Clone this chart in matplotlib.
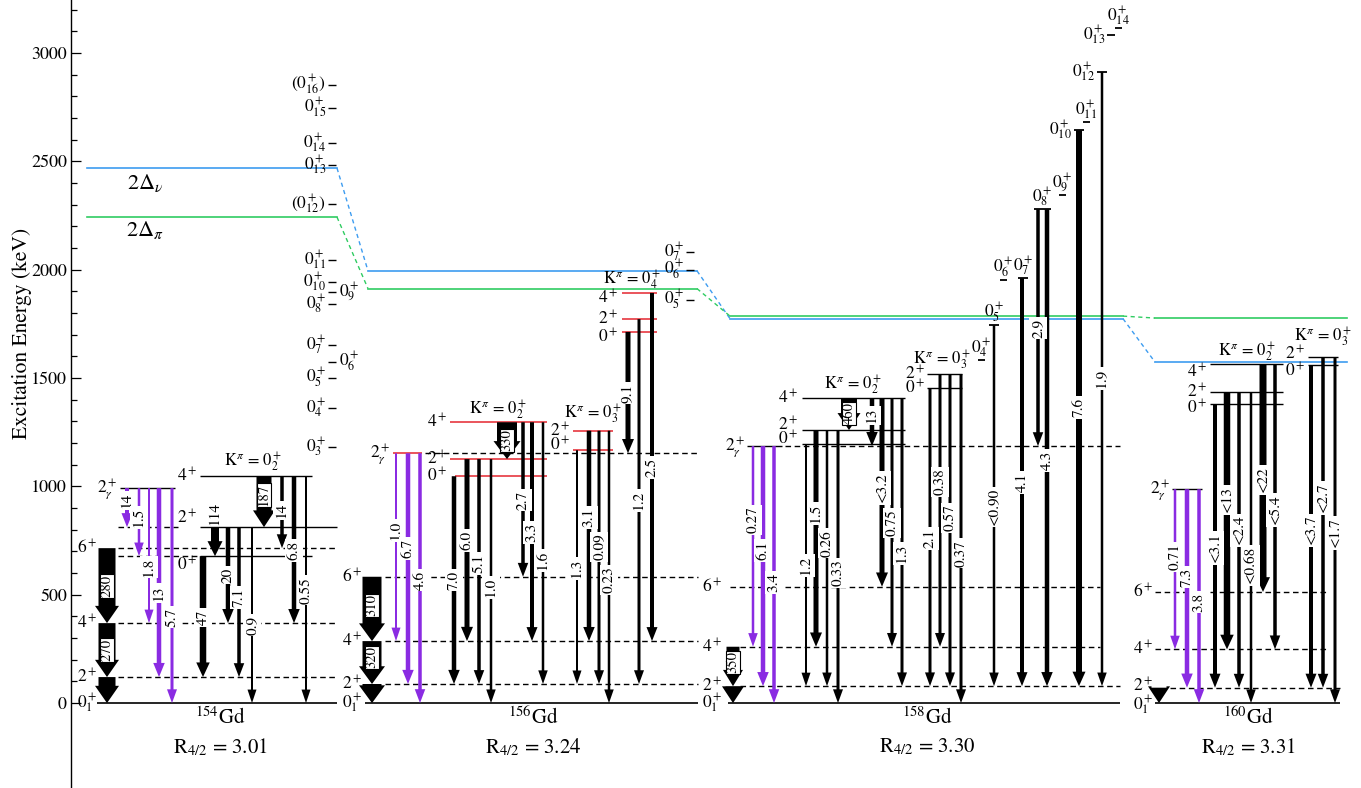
import numpy as np
import matplotlib
matplotlib.use('Agg')
import matplotlib.pyplot as plt
from matplotlib.patches import Polygon

plt.rcParams['font.family'] = 'serif'
plt.rcParams['font.serif'] = ['STIXGeneral', 'Liberation Serif', 'DejaVu Serif']
plt.rcParams['mathtext.fontset'] = 'stix'

################################################################################
# Level energies (keV)
################################################################################
gd154_E = {'0+1': 0, '2+1': 120, '4+1': 369, '6+1': 715, '2g': 992,
           '0+2': 678, '2+2': 812, '4+2': 1047}
gd154_ladder_name = ['0^+_3', '0^+_4', '0^+_5', '0^+_6', '0^+_7', '0^+_8', '0^+_9',
                     '0^+_{10}', '0^+_{11}', '(0^+_{12})', '0^+_{13}', '0^+_{14}',
                     '0^+_{15}', '(0^+_{16})']
gd154_ladder_E = [1182, 1361, 1500, 1574, 1652, 1841, 1897, 1944, 2045, 2303,
                  2483, 2585, 2746, 2852]

gd156_E = {'0+1': 0, '2+1': 88, '4+1': 286, '6+1': 583, '2g': 1153,
           '0+2': 1047, '2+2': 1126, '4+2': 1296, '0+3': 1167, '2+3': 1257,
           '0+4': 1713, '2+4': 1772, '4+4': 1893}
gd156_ladder_name = ['0^+_5', '0^+_6', '0^+_7']
gd156_ladder_E = [1860, 1998, 2081]

gd158_E = {'0+1': 0, '2+1': 78, '4+1': 260, '6+1': 537, '2g': 1186,
           '0+2': 1195, '2+2': 1260, '4+2': 1407, '0+3': 1453, '2+3': 1518,
           '0+4': 1583, '0+5': 1744, '0+6': 1952, '0+7': 1961, '0+8': 2279,
           '0+9': 2344, '0+10': 2644, '0+11': 2681, '0+12': 2912,
           '0+13': 3083, '0+14': 3115}

gd160_E = {'0+1': 0, '2+1': 71, '4+1': 248, '6+1': 513, '2g': 987,
           '0+2': 1379, '2+2': 1434, '4+2': 1563, '0+3': 1559, '2+3': 1597}

# pairing gaps 2Delta_nu, 2Delta_pi for 154,156,158,160Gd
delta_nu = [2469, 1995, 1774, 1574]
delta_pi = [2243, 1913, 1786, 1777]

nuclei = ['154', '156', '158', '160']
r42 = ['3.01', '3.24', '3.30', '3.31']

################################################################################
# Transitions: initial, final, B(E2) label (W.u.)
################################################################################
gd154_from = ['6+1', '4+1', '2+1', '2g', '2g', '2g', '2g', '2g', '0+2', '2+2',
              '2+2', '2+2', '2+2', '4+2', '4+2', '4+2', '4+2']
gd154_to = ['4+1', '2+1', '0+1', '2+2', '0+2', '4+1', '2+1', '0+1', '2+1', '0+2',
            '4+1', '2+1', '0+1', '2+2', '6+1', '4+1', '0+1']
gd154_be2 = ['280', '270', '', '14', '1.5', '1.8', '13', '5.7', '47', '114',
             '20', '7.1', '0.9', '187', '14', '6.8', '0.55']

gd156_from = ['6+1', '4+1', '2+1', '2g', '2g', '2g', '0+2', '2+2', '2+2', '2+2',
              '4+2', '4+2', '4+2', '4+2', '0+3', '2+3', '2+3', '2+3', '0+4', '2+4', '4+4']
gd156_to = ['4+1', '2+1', '0+1', '4+1', '2+1', '0+1', '2+1', '4+1', '2+1', '0+1',
            '2+2', '6+1', '4+1', '2+1', '2+1', '4+1', '2+1', '0+1', '2g', '2+1', '4+1']
gd156_be2 = ['310', '320', '', '1.0', '6.7', '4.6', '7.0', '6.0', '5.1', '1.0',
             '330', '2.7', '3.3', '1.6', '1.3', '3.1', '0.09', '0.23', '9.1', '1.2', '2.5']

gd158_from = ['4+1', '2+1', '2g', '2g', '2g', '0+2', '2+2', '2+2', '2+2', '4+2',
              '4+2', '4+2', '4+2', '4+2', '0+3', '2+3', '2+3', '2+3',
              '0+5', '0+7', '0+8', '0+8', '0+10', '0+12']
gd158_to = ['2+1', '0+1', '4+1', '2+1', '0+1', '2+1', '4+1', '2+1', '0+1', '2+2',
            '2g', '6+1', '4+1', '2+1', '2+1', '4+1', '2+1', '0+1',
            '2+1', '2+1', '2g', '2+1', '2+1', '2+1']
gd158_be2 = ['350', '', '0.27', '6.1', '3.4', '1.2', '1.5', '0.26', '0.33', '460',
             '13', '<3.2', '0.75', '1.3', '2.1', '0.38', '0.57', '0.37',
             '<0.90', '4.1', '2.9', '4.3', '7.6', '1.9']

gd160_from = ['2+1', '2g', '2g', '2g', '0+2', '2+2', '2+2', '2+2', '4+2', '4+2',
              '0+3', '2+3', '2+3']
gd160_to = ['0+1', '4+1', '2+1', '0+1', '2+1', '4+1', '2+1', '0+1', '6+1', '4+1',
            '2+1', '2+1', '0+1']
gd160_be2 = ['', '0.71', '7.3', '3.8', '<3.1', '<13', '<2.4', '<0.68', '<22', '<5.4',
             '<3.7', '<2.7', '<1.7']

################################################################################
# Layout (horizontal positions in pixel-like units, arrow widths, label heights)
################################################################################
gd154_x = [107, 107, 107, 127, 139, 149, 159, 172, 203, 215, 228, 239, 252, 264, 282, 294, 306]
gd154_w = [17, 17, 17, 4, 2.5, 2, 4.5, 3, 6.5, 8, 4.5, 3.5, 2, 15, 3.5, 4.5, 2]
gd154_lab = [540, 245, None, 937, 858, 628, 508, 397, 397, 877, 591, 489, 360, 960, 891, 706, 521]

gd156_x = [372, 372, 372, 396, 408, 420, 454, 467, 479, 491, 507, 523, 532, 543,
           577, 589, 599, 609, 628, 639, 652]
gd156_w = [19, 19, 19, 2, 4.5, 3.5, 4.5, 5, 3.5, 2.5, 20, 3.5, 4, 2.5,
           2, 4.5, 3, 2.5, 5, 3, 4]
gd156_lab = [452, 212, None, 798, 715, 568, 568, 752, 646, 535, 1214, 937, 789, 660,
             623, 858, 720, 568, 1431, 937, 1089]

gd158_x = [733, 733, 753, 763, 774, 806, 816, 827, 838, 849, 872, 882, 892, 902,
           930, 940, 950, 961, 994, 1022, 1038, 1047, 1079, 1102]
gd158_w = [13, 15, 2.5, 4.5, 3.5, 2, 5, 2.5, 3, 16, 4.5, 5, 3, 3,
           3, 3, 3, 3, 2.5, 4, 3.5, 4.5, 6, 2.5]
gd158_lab = [189, None, 845, 706, 558, 637, 877, 738, 600, 1338, 1329, 992, 831, 692,
             761, 1020, 854, 692, 905, 1020, 1731, 1121, 1366, 1500]

gd160_x = [1159, 1175, 1187, 1199, 1215, 1227, 1239, 1251, 1263, 1275, 1311, 1323, 1335]
gd160_w = [15, 2.5, 4.5, 3.5, 4, 6.5, 3.5, 2.5, 7, 3.5, 4, 3.5, 3]
gd160_lab = [None, 674, 582, 466, 715, 937, 798, 637, 1029, 891, 798, 946, 785]

PURPLE = '#8a2be2'
RED = '#e8474e'
BLUE = '#3d9cf0'
GREEN = '#30cc62'
DASH = (0, (4, 2.6))
KFS = 12

E_MIN, E_MAX = -392, 3245
PX = 788.0 / (E_MAX - E_MIN)   # pixels per keV

fig = plt.figure(figsize=(13.61, 7.88), dpi=100)
ax = fig.add_axes([71 / 1361, 0, 1 - 71 / 1361, 1])
ax.set_xlim(71, 1361)
ax.set_ylim(E_MIN, E_MAX)
for s in ['top', 'right', 'bottom']:
    ax.spines[s].set_visible(False)
ax.spines['left'].set_linewidth(1.0)
ax.set_xticks([])
ax.set_yticks(np.arange(0, 3001, 500))
ax.set_yticks([v for v in range(100, 3300, 100) if v % 500], minor=True)
ax.tick_params(axis='y', which='major', direction='in', length=7, width=0.9,
               labelsize=13, pad=3)
ax.tick_params(axis='y', which='minor', direction='in', length=4.5, width=0.9)
fig.text(22 / 1361, 1 - 333 / 788, 'Excitation Energy (keV)', rotation=90,
         ha='center', va='center', fontsize=15.5)


def level(x0, x1, e, color='black', ls='-', lw=1.0):
    ax.plot([x0, x1], [e, e], color=color, ls=ls, lw=lw, zorder=2,
            solid_capstyle='butt')


def lab(x, e, s, ha='right', fs=12.5):
    ax.text(x, e, s, ha=ha, va='center', fontsize=fs, zorder=6)


def klab(x, e, sub):
    ax.text(x, e, 'K$^\\pi$ = $0^+_%s$' % sub, ha='center', va='center',
            fontsize=KFS, zorder=6)


def arrow(x, e_top, e_bot, w, color, label, label_e):
    hl = (13 + 0.25 * w) / PX
    hw = w + 7
    neck = e_bot + hl
    xs = [x - w / 2, x + w / 2, x + w / 2, x + hw / 2, x, x - hw / 2, x - w / 2]
    ys = [e_top, e_top, neck, neck, e_bot, neck, neck]
    ax.add_patch(Polygon(np.column_stack([xs, ys]), closed=True, fc=color,
                         ec='none', zorder=3))
    if label:
        boxed = float(label.lstrip('<')) > 150
        ax.text(x, label_e, label, rotation=90, ha='center', va='center',
                fontsize=10.5 if boxed else 11, zorder=5,
                bbox=dict(boxstyle='square,pad=%s' % (0.04 if boxed else 0.12),
                          fc='white', ec='black' if boxed else 'none', lw=0.8))


def transitions(E, frm, to, be2, xs, ws, labs):
    for i in range(len(frm)):
        col = PURPLE if frm[i] == '2g' else 'black'
        arrow(xs[i], E[frm[i]], E[to[i]], ws[i], col, be2[i], labs[i])


################################################################################
# 154Gd
################################################################################
E = gd154_E
level(97, 337, E['0+1'], lw=1.2)
for k in ['2+1', '4+1', '6+1']:
    level(118, 337, E[k], ls=DASH)
level(120, 175, E['2g'])
level(118, 200, E['0+2'], ls=DASH)
level(200, 312, E['0+2'])
level(118, 178, E['2+2'], ls=DASH)
level(200, 337, E['2+2'])
level(200, 312, E['4+2'])
lab(97, 0, '$0^+_1$')
lab(97, E['2+1'], '$2^+$')
lab(97, E['4+1'], '$4^+$')
lab(97, E['6+1'], '$6^+$')
lab(117, E['2g'] - 8, '$2^+_\\gamma$')
lab(197, E['0+2'] - 40, '$0^+$')
lab(197, E['2+2'] + 40, '$2^+$')
lab(197, E['4+2'], '$4^+$')
klab(253, 1110, '2')
for name, e in zip(gd154_ladder_name, gd154_ladder_E):
    level(328, 336, e)
    if name in ('0^+_6', '0^+_9'):
        lab(339, e, '$' + name + '$', ha='left')
    else:
        lab(326, e, '$' + name + '$')
transitions(E, gd154_from, gd154_to, gd154_be2, gd154_x, gd154_w, gd154_lab)

################################################################################
# 156Gd
################################################################################
E = gd156_E
level(365, 698, E['0+1'], lw=1.2)
for k in ['2+1', '4+1', '6+1']:
    level(385, 698, E[k], ls=DASH)
level(393, 422, E['2g'], color=RED, lw=1.3)
level(425, 698, E['2g'], ls=DASH)
level(455, 547, E['0+2'], color=RED, lw=1.3)
level(450, 547, E['2+2'], color=RED, lw=1.3)
level(450, 547, E['4+2'], color=RED, lw=1.3)
for k in ['0+3', '2+3']:
    level(573, 613, E[k], color=RED, lw=1.3)
for k in ['0+4', '2+4', '4+4']:
    level(622, 657, E[k], color=RED, lw=1.3)
lab(362, 0, '$0^+_1$')
lab(362, E['2+1'], '$2^+$')
lab(362, E['4+1'], '$4^+$')
lab(362, E['6+1'], '$6^+$')
lab(390, E['2g'] - 8, '$2^+_\\gamma$')
lab(447, E['0+2'], '$0^+$')
lab(447, E['2+2'], '$2^+$')
lab(447, E['4+2'], '$4^+$')
lab(570, E['0+3'] + 25, '$0^+$')
lab(570, E['2+3'], '$2^+$')
lab(618, E['0+4'] - 23, '$0^+$')
lab(618, E['2+4'], '$2^+$')
lab(618, E['4+4'] - 26, '$4^+$')
klab(498, 1352, '2')
klab(593, 1332, '3')
klab(632, 1952, '4')
for name, e in zip(gd156_ladder_name, gd156_ladder_E):
    level(686, 694, e)
    lab(684, e, '$' + name + '$')
transitions(E, gd156_from, gd156_to, gd156_be2, gd156_x, gd156_w, gd156_lab)

################################################################################
# 158Gd
################################################################################
E = gd158_E
level(728, 1120, E['0+1'], lw=1.2)
level(740, 1120, E['2+1'], ls=DASH)
level(740, 1100, E['4+1'], ls=DASH)
level(730, 1100, E['6+1'], ls=DASH)
level(747, 782, E['2g'])
level(785, 1120, E['2g'], ls=DASH)
for k in ['0+2', '2+2', '4+2']:
    level(802, 905, E[k])
for k in ['0+3', '2+3']:
    level(927, 962, E[k])
lab(722, 0, '$0^+_1$')
lab(722, E['2+1'], '$2^+$')
lab(722, E['4+1'], '$4^+$')
lab(722, E['6+1'], '$6^+$')
lab(745, E['2g'] - 8, '$2^+_\\gamma$')
lab(798, E['0+2'] + 25, '$0^+$')
lab(798, E['2+2'] + 25, '$2^+$')
lab(798, E['4+2'], '$4^+$')
lab(925, E['0+3'], '$0^+$')
lab(925, E['2+3'], '$2^+$')
klab(853, 1468, '2')
klab(942, 1582, '3')
# high-lying 0+ states: marker centre, half width, label above or to the left
upper_x = {'0+4': 981, '0+5': 994, '0+6': 1003, '0+7': 1023, '0+8': 1042.5,
           '0+9': 1062, '0+10': 1079, '0+11': 1086, '0+12': 1102, '0+13': 1111,
           '0+14': 1118}
upper_hw = {'0+4': 3.5, '0+5': 5, '0+6': 3.5, '0+7': 5, '0+8': 8.5, '0+9': 3.5,
            '0+10': 5, '0+11': 3.5, '0+12': 5, '0+13': 4, '0+14': 3.5}
for k, xc in upper_x.items():
    e = E[k]
    level(xc - upper_hw[k], xc + upper_hw[k], e, lw=1.3)
    txt = '$0^+_{%s}$' % k[2:]
    if k in ('0+10', '0+12', '0+13'):
        lab(xc - upper_hw[k] - 2, e, txt)
    else:
        ax.text(xc, e + 55, txt, ha='center', va='center', fontsize=12.5, zorder=6)
transitions(E, gd158_from, gd158_to, gd158_be2, gd158_x, gd158_w, gd158_lab)

################################################################################
# 160Gd
################################################################################
E = gd160_E
level(1155, 1340, E['0+1'], lw=1.2)
level(1170, 1340, E['2+1'], ls=DASH)
level(1155, 1328, E['4+1'], ls=DASH)
level(1155, 1328, E['6+1'], ls=DASH)
level(1172, 1202, E['2g'])
for k in ['0+2', '2+2', '4+2']:
    level(1210, 1283, E[k])
for k in ['0+3', '2+3']:
    level(1308, 1338, E[k])
lab(1153, -8, '$0^+_1$')
lab(1153, E['2+1'] + 6, '$2^+$')
lab(1153, E['4+1'], '$4^+$')
lab(1153, E['6+1'], '$6^+$')
lab(1170, E['2g'] - 8, '$2^+_\\gamma$')
lab(1207, E['0+2'] - 18, '$0^+$')
lab(1207, E['2+2'], '$2^+$')
lab(1207, E['4+2'] - 34, '$4^+$')
lab(1305, E['0+3'] - 29, '$0^+$')
lab(1305, E['2+3'] + 15, '$2^+$')
klab(1247, 1620, '2')
klab(1323, 1689, '3')
transitions(E, gd160_from, gd160_to, gd160_be2, gd160_x, gd160_w, gd160_lab)

################################################################################
# Pairing gaps with dashed connectors, nucleus names
################################################################################
seg = [(87, 337), (368, 697), (730, 1123), (1155, 1347)]
for vals, col in [(delta_nu, BLUE), (delta_pi, GREEN)]:
    for i, (x0, x1) in enumerate(seg):
        ax.plot([x0, x1], [vals[i], vals[i]], color=col, lw=1.2, zorder=1)
        if i < len(seg) - 1:
            ax.plot([x1, seg[i + 1][0]], [vals[i], vals[i + 1]], color=col,
                    lw=1.0, ls=(0, (3, 2.5)), zorder=1)
ax.text(145, 2400, '2$\\Delta_\\nu$', ha='center', va='center', fontsize=16)
ax.text(145, 2183, '2$\\Delta_\\pi$', ha='center', va='center', fontsize=16)

name_x = [220, 533, 927, 1248]
for nx, a, r in zip(name_x, nuclei, r42):
    ax.text(nx, -69, '$^{%s}$Gd' % a, ha='center', va='center', fontsize=15)
    ax.text(nx, -203, 'R$_{4/2}$ = %s' % r, ha='center', va='center', fontsize=15)

fig.savefig('out.png', dpi=100)
